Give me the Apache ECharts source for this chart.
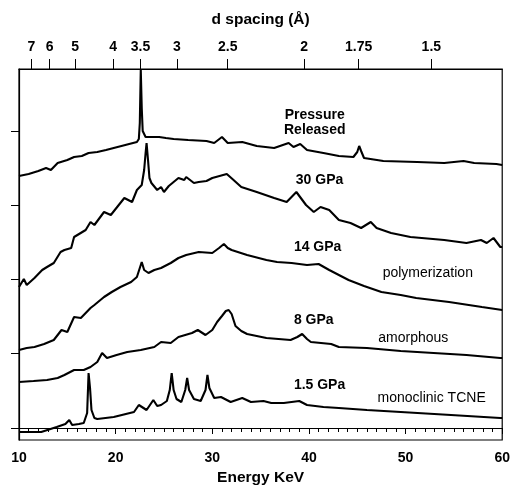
<!DOCTYPE html>
<html><head><meta charset="utf-8">
<script src="https://cdn.jsdelivr.net/npm/echarts@6/dist/echarts.min.js"></script>
<style>html,body{margin:0;padding:0;background:#fff}#c{width:513px;height:494px}</style>
</head><body><div id="c"></div>
<script>
// d-spacing tick labels (Å) on the top axis; E(keV) * d(Å) = K
const dSpacingTicks = [7, 6, 5, 4, 3.5, 3, 2.5, 2, 1.75, 1.5];
const K = 79;
// left-axis tick positions (arbitrary intensity units)
const yTicks = [0, 74.3, 148.6, 222.9, 297.2];

// spectra: [energy keV, stacked intensity (arb.)]
const released = [[10,252],[11,254],[12,257],[12.8,260],[13.3,258],[14,265],[15,268],[15.7,271],[16.5,272],[17.2,275],[18.1,276],[19,278],[19.8,280],[21,283],[22.2,286],[22.4,289],[22.5,305],[22.6,358],[22.7,320],[22.8,297],[23.1,291],[24.5,291],[25.2,290],[26,289],[27.5,288],[29.4,287],[30.2,285],[31,291],[31.6,285],[33.1,286],[34.6,282],[36.4,280],[37.9,285],[38.4,281],[39.1,284],[39.8,278],[41.5,275],[43.1,272],[44.6,271],[45.0,276],[45.2,282],[45.4,277],[45.7,270],[47.7,267],[51.2,266],[54,265],[56,267],[57.1,265],[59.4,264],[60,263]];
const gpa30 = [[10,141],[10.5,149],[10.8,143],[11.6,150],[12.4,158],[12.9,161],[13.6,165],[14.3,176],[14.7,178],[15.4,180],[15.7,191],[16.9,198],[17.4,206],[17.8,203],[18.8,216],[19.5,213],[20.9,230],[21.7,226],[22.2,238],[22.7,243],[22.95,258],[23.1,275],[23.2,285],[23.35,268],[23.5,250],[23.7,245],[24.3,238],[24.7,241],[25,236],[25.5,242],[26,246],[26.5,250],[27.1,248],[27.3,251],[28.1,245],[28.6,246],[29.4,247],[30,250],[31.5,254],[32.2,248],[33,241],[34.6,236],[36.4,230],[37.7,226],[38.7,236],[39.7,223],[40.5,216],[41.2,221],[42.1,218],[43.1,208],[44.3,205],[45.4,200],[46.4,206],[47,200],[48.5,195],[50.5,191],[54,188],[56.3,185],[57.8,188],[58.4,185],[59.1,190],[59.8,181],[60,181]];
const gpa14 = [[10,78],[10.8,80],[11.6,81],[12.6,84],[13.6,88],[14.4,98],[15,96],[15.7,111],[16.4,110],[17.4,120],[17.8,123],[18.8,131],[19.6,136],[20.5,141],[21.6,146],[22.2,151],[22.5,160],[22.7,166],[22.95,158],[23.4,155],[24,158],[24.7,160],[25.7,165],[26.5,170],[27.3,173],[28.6,176],[30,175],[30.7,180],[31.2,184],[31.6,180],[32,178],[33.6,173],[35.6,168],[36.7,166],[38.2,165],[39.8,163],[41,164],[42.1,158],[42.3,156],[44.1,148],[45.7,142],[47.5,136],[49.5,133],[51.1,130],[54.5,126],[57.9,121],[60,118]];
const gpa8 = [[10,46],[11.5,47],[12.9,48],[14,50],[14.7,53],[15.7,58],[16.7,58],[17.4,61],[18.1,66],[18.6,75],[19.1,70],[20.1,73],[21.2,76],[22.6,78],[24,81],[24.7,86],[25.7,85],[26.5,91],[27.9,95],[28.5,98],[29.3,93],[30,98],[30.5,106],[31,112],[31.4,117],[31.7,118],[32,114],[32.4,102],[33,97],[33.6,94],[35.6,90],[38.1,88],[38.8,91],[39.3,94],[39.8,89],[40.2,86],[42.3,84],[43.1,81],[46,80],[49.5,77],[52.9,75],[56.3,73],[59.8,70],[60,70]];
const gpa1p5 = [[10,-4],[12.3,-4],[13.9,1],[14.8,4],[15.2,8],[15.5,3],[16.2,4],[16.7,5],[17.05,15],[17.2,55],[17.35,40],[17.5,18],[17.8,10],[18.1,9],[19.8,11],[21.9,16],[22.4,23],[23.2,18],[23.9,28],[24.3,22],[24.7,23],[25.3,27],[25.6,38],[25.8,55],[26.0,38],[26.3,29],[26.8,26],[27.2,38],[27.4,50],[27.6,38],[28.1,29],[28.8,27],[29.3,38],[29.5,53],[29.7,40],[30.2,30],[30.9,31],[31.9,26],[33.1,30],[34,26],[35.3,27],[36.1,25],[37.4,25],[39,27],[39.8,23],[41.5,21],[43.1,20],[46,18],[49.5,16],[54.7,13],[59.8,10],[60,10]];

// annotations: [energy, intensity, text, bold]
const annotations = [
  [40.6, 305.5, 'Pressure\nReleased', true],
  [41.1, 248, '30 GPa', true],
  [40.9, 181, '14 GPa', true],
  [52.3, 155, 'polymerization', false],
  [40.5, 108, '8 GPa', true],
  [50.8, 90, 'amorphous', false],
  [41.1, 43, '1.5 GPa', true],
  [52.7, 30, 'monoclinic TCNE', false]
];

const FONT = 'Liberation Sans';
const dTickEnergies = dSpacingTicks.map(d => K / d);
const traces = [released, gpa30, gpa14, gpa8, gpa1p5];

const chart = echarts.init(document.getElementById('c'), null, {renderer: 'canvas'});
chart.setOption({
  animation: false,
  backgroundColor: '#fff',
  grid: {left: 19, right: 10, top: 69, bottom: 54, show: true, borderColor: '#000', borderWidth: 1.2, backgroundColor: 'transparent'},
  xAxis: [
    {
      type: 'value', min: 10, max: 60, interval: 10, position: 'bottom',
      name: 'Energy KeV', nameLocation: 'middle', nameGap: 28,
      nameTextStyle: {fontFamily: FONT, fontWeight: 'bold', fontSize: 15.5, color: '#000'},
      axisLine: {lineStyle: {color: '#000', width: 1.2}},
      axisTick: {length: 6, lineStyle: {color: '#000', width: 1}},
      minorTick: {show: true, splitNumber: 10, length: 4, lineStyle: {color: '#000', width: 1}},
      axisLabel: {margin: 11, fontFamily: FONT, fontWeight: 'bold', fontSize: 14, color: '#000'},
      splitLine: {show: false}, minorSplitLine: {show: false}
    },
    {
      type: 'value', min: 10, max: 60, position: 'top',
      name: 'd spacing (Å)', nameLocation: 'middle', nameGap: 41,
      nameTextStyle: {fontFamily: FONT, fontWeight: 'bold', fontSize: 15.5, color: '#000'},
      axisLine: {lineStyle: {color: '#000', width: 1.2}},
      axisTick: {customValues: dTickEnergies, length: 10, lineStyle: {color: '#000', width: 1}},
      axisLabel: {
        customValues: dTickEnergies, margin: 15, fontFamily: FONT, fontWeight: 'bold', fontSize: 14, color: '#000',
        formatter: v => String(Math.round(K / v * 100) / 100)
      },
      splitLine: {show: false}
    }
  ],
  yAxis: {
    type: 'value', min: -12, max: 359,
    axisLine: {show: true, lineStyle: {color: '#000', width: 1.2}},
    axisTick: {show: true, customValues: yTicks, length: 8, lineStyle: {color: '#000', width: 1}},
    axisLabel: {show: false},
    splitLine: {show: false}
  },
  series: traces.map(t => ({
    type: 'line', xAxisIndex: 0, data: t, showSymbol: false, symbol: 'none',
    lineStyle: {color: '#000', width: 2.1}, clip: true
  })).concat([{
    type: 'scatter', xAxisIndex: 0, symbolSize: 0,
    itemStyle: {color: '#000', opacity: 1},
    data: annotations.map(a => ({
      value: [a[0], a[1]], name: a[2],
      label: {fontWeight: a[3] ? 'bold' : 'normal'}
    })),
    label: {show: true, position: [0, 0], align: 'center', verticalAlign: 'middle', formatter: '{b}', color: '#000', opacity: 1, textBorderWidth: 0, fontFamily: FONT, fontSize: 14, lineHeight: 15}
  }])
});
</script></body></html>
